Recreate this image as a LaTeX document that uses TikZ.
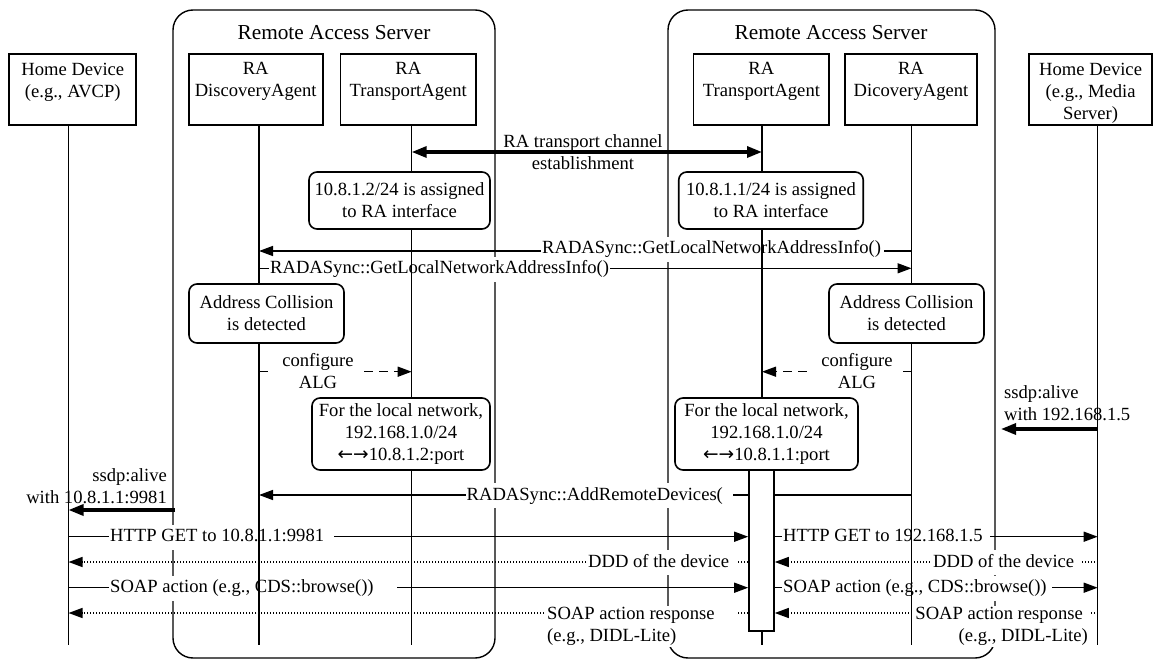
\documentclass[tikz,border=0pt]{standalone}
\usepackage{fontspec}
\setmainfont{Liberation Serif}
\newfontfamily\arrowfont{DejaVu Sans}
\usetikzlibrary{arrows.meta}
\pgfdeclarelayer{lzero}
\pgfdeclarelayer{lone}
\pgfdeclarelayer{ltwo}
\pgfdeclarelayer{lthree}
\pgfsetlayers{lzero,lone,ltwo,lthree,main}
\tikzset{
  base/.style={line width=1.4pt},
  ras/.style={base, draw, rounded corners=20pt, inner sep=0pt},
  rastitle/.style={inner sep=0pt, font=\fontsize{21.3}{26}\selectfont},
  hdr/.style={line width=1.7pt, draw, fill=white, inner sep=0pt, minimum height=71pt},
  hdrtext/.style={anchor=north, align=center, inner sep=0pt},
  note/.style={line width=1.6pt, draw, fill=white, rounded corners=8pt, align=center, inner sep=0pt},
  actbox/.style={line width=1.6pt, draw, fill=white, inner sep=0pt, minimum width=25pt, minimum height=161pt},
  life/.style={base},
  msg/.style={base, -{Triangle[length=14pt,width=10pt]}},
  dashmsg/.style={msg, dash pattern=on 9pt off 6pt},
  dotmsg/.style={msg, dash pattern=on 1.2pt off 1.8pt},
  boldmsg/.style={line width=3.2pt, -{Triangle[length=15pt,width=11pt]}},
  boldboth/.style={line width=3.2pt, {Triangle[length=15pt,width=11pt]}-{Triangle[length=15pt,width=11pt]}},
  lbl/.style={fill=white, inner xsep=1pt, inner ysep=4pt, text height=13pt, text depth=4pt},
  mlbl/.style={fill=white, inner xsep=1pt, inner ysep=1pt},
}
\begin{document}
\begin{tikzpicture}[x=1pt,y=-1pt,font=\fontsize{18.6}{22}\selectfont]
\useasboundingbox (0,0) rectangle (1154,660);

% lifeline x positions and bottom
\coordinate (x1) at (68.5,0);
\coordinate (x2) at (259,0);
\coordinate (x3) at (411.7,0);
\coordinate (x4) at (762,0);
\coordinate (x5) at (911.5,0);
\coordinate (x6) at (1097.7,0);
\coordinate (bot) at (0,645);

% header boxes
\node[hdr, minimum width=127pt] (hd1) at (72.8,89.7) {};
\node[hdrtext] (hd1t) at (hd1.north |- 0,62.5) {Home Device\\(e.g., AVCP)};
\node[hdr, minimum width=134pt] (da1) at (255.7,89.7) {};
\node[hdrtext] (da1t) at (da1.north |- 0,62.5) {RA\\DiscoveryAgent};
\node[hdr, minimum width=135.7pt] (ta1) at (408.3,89.7) {};
\node[hdrtext] (ta1t) at (ta1.north |- 0,62.5) {RA\\TransportAgent};
\node[hdr, minimum width=135.6pt] (ta2) at (761.4,89.7) {};
\node[hdrtext] (ta2t) at (ta2.north |- 0,62.5) {RA\\TransportAgent};
\node[hdr, minimum width=132pt] (da2) at (911,89.7) {};
\node[hdrtext] (da2t) at (da2.north |- 0,62.5) {RA\\DicoveryAgent};
\node[hdr, minimum width=123pt] (hd2) at (1090.6,89.7) {};
\node[hdrtext] (hd2t) at (hd2.north |- 0,62.5) {Home Device\\(e.g., Media\\Server)};

% notes
\node[note, minimum width=181pt, minimum height=57pt] (n1) at (399.5,200.5) {10.8.1.2/24 is assigned\\to RA interface};
\node[note, minimum width=184.5pt, minimum height=57pt] (n2) at (771,200.5) {10.8.1.1/24 is assigned\\to RA interface};
\node[note, minimum width=155pt, minimum height=59pt] (ac1) at (266.5,313.5) {Address Collision\\is detected};
\node[note, minimum width=155pt, minimum height=59pt] (ac2) at (906.5,313.5) {Address Collision\\is detected};
\node[note, minimum width=178pt, minimum height=72pt] (ln1) at (401,434) {For the local network,\\192.168.1.0/24\\{\arrowfont ←→}10.8.1.2:port};
\node[note, minimum width=183pt, minimum height=72pt] (ln2) at (766.5,434) {For the local network,\\192.168.1.0/24\\{\arrowfont ←→}10.8.1.1:port};
\node[actbox] (act) at (761.5,550.5) {};

% remote access servers
\begin{pgfonlayer}{lzero}
\node[ras, minimum width=322pt, minimum height=648pt] (ras1) at (334,334) {};
\node[rastitle] (ras1t) at (334,33) {Remote Access Server};
\node[ras, minimum width=327pt, minimum height=648pt] (ras2) at (831.5,334) {};
\node[rastitle] (ras2t) at (831,33) {Remote Access Server};
\end{pgfonlayer}

% messages
\begin{pgfonlayer}{lone}
\draw[boldboth] (x3 |- 0,152) -- (x4 |- 0,152);
\draw[msg] (x5 |- 0,251) -- (x2 |- 0,251);
\draw[msg] (x2 |- 0,268.3) -- (x5 |- 0,268.3);
\draw[dashmsg] (x2 |- 0,371.7) -- (x3 |- 0,371.7);
\draw[dashmsg] (x5 |- 0,371.7) -- (x4 |- 0,371.7);
\coordinate (ssr) at (1001,429);
\draw[boldmsg] (x6 |- ssr) -- (ssr);
\coordinate (ssl) at (175,510);
\draw[boldmsg] (ssl) -- (x1 |- ssl);
\draw[msg] (x5 |- 0,495) -- (x2 |- 0,495);
\draw[msg] (x1 |- 0,536.7) -- (act.west |- 0,536.7);
\draw[msg] (act.east |- 0,536.7) -- (x6 |- 0,536.7);
\draw[dotmsg] (act.west |- 0,562) -- (x1 |- 0,562);
\draw[dotmsg] (x6 |- 0,562) -- (act.east |- 0,562);
\draw[msg] (x1 |- 0,587.7) -- (act.west |- 0,587.7);
\draw[msg] (act.east |- 0,587.7) -- (x6 |- 0,587.7);
\draw[dotmsg] (act.west |- 0,613) -- (x1 |- 0,613);
\draw[dotmsg] (x6 |- 0,613) -- (act.east |- 0,613);
\end{pgfonlayer}

% labels
\begin{pgfonlayer}{ltwo}
\node[align=center, inner sep=0pt] (trl) at (583,152) {RA transport channel\\establishment};
\node[lbl, anchor=west] (gl1) at (541,249.5) {RADASync::GetLocalNetworkAddressInfo()\hspace*{2pt}};
\node[lbl, anchor=west] (gl2) at (269,269.3) {RADASync::GetLocalNetworkAddressInfo()};
\node[mlbl, inner xsep=8pt, inner ysep=0pt, align=center] (cfg1) at (318,371) {configure\\ALG};
\node[mlbl, inner xsep=8pt, inner ysep=0pt, align=center] (cfg2) at (857,371) {configure\\ALG};
\node[anchor=west, align=left, inner sep=0pt] (ssdpr) at (1004,403) {ssdp:alive\\with 192.168.1.5};
\node[anchor=east, align=right, inner sep=0pt] (ssdpl) at (167,486) {ssdp:alive\\with 10.8.1.1:9981};
\node[lbl, anchor=west] (arl) at (465.5,495.5) {RADASync::AddRemoteDevices(\hspace*{9pt}};
\node[lbl, anchor=west] (h1) at (109,537.2) {HTTP GET to 10.8.1.1:9981\hspace*{9pt}};
\node[lbl, anchor=west] (h2) at (782,537.2) {HTTP GET to 192.168.1.5\hspace*{6pt}};
\node[lbl, anchor=west] (d1) at (587,562.5) {DDD of the device\hspace*{8pt}};
\node[lbl, anchor=west] (d2) at (932,562.5) {DDD of the device\hspace*{6pt}};
\node[lbl, anchor=west] (s1) at (109,588.2) {SOAP action (e.g., CDS::browse())\hspace*{22pt}};
\node[lbl, anchor=west] (s2) at (782,588.2) {SOAP action (e.g., CDS::browse())\hspace*{4pt}};
\node[mlbl, anchor=north west, align=left] (r1) at (546,606) {SOAP action response\hspace*{20pt}\\(e.g., DIDL-Lite)};
\node[mlbl, anchor=north east, align=right] (r2) at (1089,606) {SOAP action response\hspace*{5pt}\\(e.g., DIDL-Lite)};
\end{pgfonlayer}

% lifelines
\begin{pgfonlayer}{lthree}
\draw[life] (x1 |- hd1.south) -- (x1 |- bot);
\draw[life] (x2 |- da1.south) -- (x2 |- bot);
\draw[life] (x3 |- ta1.south) -- (x3 |- bot);
\draw[life] (x4 |- ta2.south) -- (x4 |- bot);
\draw[life] (x5 |- da2.south) -- (x5 |- bot);
\draw[life] (x6 |- hd2.south) -- (x6 |- bot);
\end{pgfonlayer}
\end{tikzpicture}
\end{document}
